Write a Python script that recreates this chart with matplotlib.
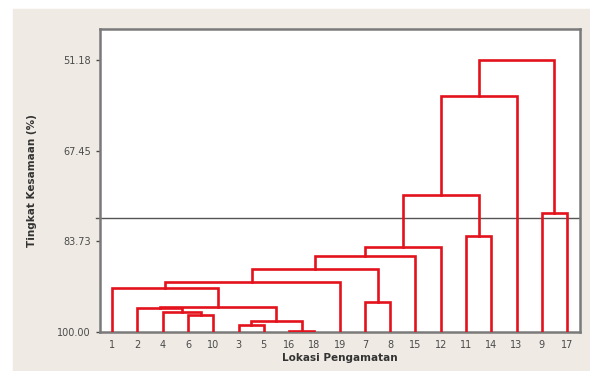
import matplotlib.pyplot as plt

# leaf order along the x axis
leaves = ['1', '2', '4', '6', '10', '3', '5', '16', '18', '19',
          '7', '8', '15', '12', '11', '14', '13', '9', '17']

# merges: (left child, right child, similarity %); new clusters are named c0, c1, ...
merges = [
    ('6', '10', 96.9),     # c0
    ('4', 'c0', 96.4),     # c1
    ('16', '18', 99.85),   # c2
    ('3', '5', 98.7),      # c3
    ('c3', 'c2', 98.1),    # c4
    ('2', 'c1', 95.7),     # c5
    ('c5', 'c4', 95.6),    # c6
    ('1', 'c6', 92.05),    # c7
    ('c7', '19', 91.0),    # c8
    ('7', '8', 94.6),      # c9
    ('c8', 'c9', 88.7),    # c10
    ('c10', '15', 86.4),   # c11
    ('c11', '12', 84.7),   # c12
    ('11', '14', 82.7),    # c13
    ('c12', 'c13', 75.4),  # c14
    ('c14', '13', 57.6),   # c15
    ('9', '17', 78.7),     # c16
    ('c15', 'c16', 51.18), # c17
]

cut_level = 79.5
yticks = [51.18, 67.45, 83.73, 100.00]

red = '#e3121d'

fig = plt.figure(figsize=(5.9, 3.71), dpi=100)
fig.patch.set_facecolor('white')
# beige panel behind the chart
fig.add_artist(plt.Rectangle((13 / 590, 0), 1, 1 - 9 / 371,
                             transform=fig.transFigure, color='#efeae3', zorder=-10))
ax = fig.add_axes([100 / 590, 1 - 332 / 371, 480 / 590, 303 / 371])
ax.set_facecolor('white')

pos = {name: (i + 1, 100.0) for i, name in enumerate(leaves)}
for k, (a, b, h) in enumerate(merges):
    xa, ha = pos[a]
    xb, hb = pos[b]
    ax.plot([xa, xa, xb, xb], [ha, h, h, hb], color=red, lw=1.9,
            solid_joinstyle='miter', zorder=3)
    pos['c%d' % k] = ((xa + xb) / 2, h)

ax.axhline(cut_level, color='#555555', lw=1.0, zorder=2, xmin=-0.008, clip_on=False)

ax.set_xlim(0.52, 19.51)
ax.set_ylim(100, 45.66)
ax.set_xticks(range(1, len(leaves) + 1))
ax.set_xticklabels(leaves)
ax.set_yticks(yticks)
ax.set_yticklabels(['%.2f' % v for v in yticks])
ax.tick_params(labelsize=7, colors='#4a4a4a', length=3, width=1)
ax.tick_params(axis='x', length=0, pad=6)

for s in ax.spines.values():
    s.set_color('#7a7a7a')
    s.set_linewidth(1.8)

ax.set_xlabel('Lokasi Pengamatan', fontsize=7.5, fontweight='bold', color='#333333', labelpad=2)
ax.set_ylabel('Tingkat Kesamaan (%)', fontsize=7.5, fontweight='bold', color='#333333', labelpad=15)

fig.savefig('out.png', dpi=100)
